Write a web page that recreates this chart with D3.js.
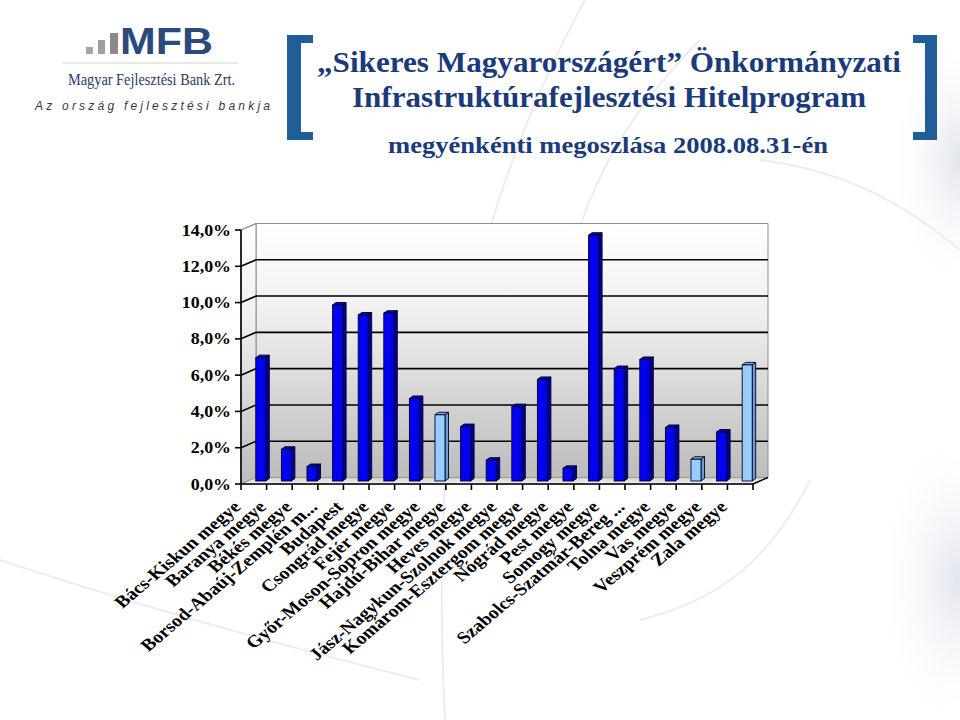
<!DOCTYPE html>
<html><head><meta charset="utf-8">
<script src="https://cdn.jsdelivr.net/npm/d3@7"></script>
<style>body{margin:0;background:#fff}svg{display:block}
.serif{font-family:'Liberation Serif','Times New Roman',Tinos,serif}
.sans{font-family:'Liberation Sans',Arial,sans-serif}</style>
</head><body>
<svg id="c" width="960" height="720"></svg>
<script>
const categories = ["Bács-Kiskun megye","Baranya megye","Békés megye","Borsod-Abaúj-Zemplén m...","Budapest","Csongrád megye","Fejér megye","Győr-Moson-Sopron megye","Hajdú-Bihar megye","Heves megye","Jász-Nagykun-Szolnok megye","Komárom-Esztergom megye","Nógrád megye","Pest megye","Somogy megye","Szabolcs-Szatmár-Bereg ...","Tolna megye","Vas megye","Veszprém megye","Zala megye"];
const values = [6.8,1.75,0.8,9.7,9.15,9.25,4.55,3.65,3.0,1.15,4.1,5.6,0.7,13.55,6.2,6.7,2.95,1.2,2.7,6.4];
const lightBars = ["Győr-Moson-Sopron megye","Vas megye","Zala megye"];
const yTicks = [0,2,4,6,8,10,12,14];
const titleLines = ["„Sikeres Magyarországért” Önkormányzati","Infrastruktúrafejlesztési Hitelprogram","megyénkénti megoszlása 2008.08.31-én"];

const svg = d3.select("#c");
const defs = svg.append("defs");

// background decoration
const bgG = defs.append("radialGradient").attr("id","blob").attr("cx",0.7).attr("cy",0.5).attr("r",0.6);
bgG.append("stop").attr("offset",0).attr("stop-color","#e2e5ee");
bgG.append("stop").attr("offset",1).attr("stop-color","#ffffff").attr("stop-opacity",0);
svg.append("ellipse").attr("cx",930).attr("cy",580).attr("rx",70).attr("ry",130).attr("fill","url(#blob)");
svg.append("ellipse").attr("cx",935).attr("cy",160).attr("rx",60).attr("ry",110).attr("fill","url(#blob)");
const arcs = ["M585,0 C520,120 470,260 450,420 C440,520 440,620 445,720",
  "M700,40 C620,120 580,200 560,300","M810,480 C770,560 720,600 640,620",
  "M0,560 C120,600 260,640 420,680","M960,250 C900,200 840,170 760,160"];
svg.selectAll("path.arc").data(arcs).enter().append("path").attr("class","arc")
  .attr("d",d=>d).attr("fill","none").attr("stroke","#ededf1").attr("stroke-width",2);

// logo
const logoBars = [[86,47,7,7,"#a6a6a6"],[98,40,7,14,"#a0a0a0"],[110,33,8,21,"#8a8a8a"]];
svg.selectAll("rect.lb").data(logoBars).enter().append("rect").attr("class","lb")
  .attr("x",d=>d[0]).attr("y",d=>d[1]).attr("width",d=>d[2]).attr("height",d=>d[3]).attr("fill",d=>d[4]);
svg.append("text").attr("class","sans").attr("x",120).attr("y",54).attr("font-weight","bold")
  .attr("font-size",36).attr("fill","#2b4a7c").attr("textLength",93).attr("lengthAdjust","spacingAndGlyphs").text("MFB");
svg.append("line").attr("x1",63).attr("x2",238).attr("y1",63).attr("y2",63).attr("stroke","#cfcfcf");
svg.append("text").attr("class","serif").attr("x",68).attr("y",85).attr("font-size",17)
  .attr("fill","#2a3b63").attr("textLength",167).attr("lengthAdjust","spacingAndGlyphs").text("Magyar Fejlesztési Bank Zrt.");
svg.append("text").attr("class","sans").attr("x",35).attr("y",110).attr("font-style","italic").attr("font-size",12)
  .attr("fill","#333a48").attr("textLength",235).attr("lengthAdjust","spacing").text("Az ország fejlesztési bankja");

// brackets
const bc = "#1f5e98";
svg.append("path").attr("fill",bc).attr("d","M287,35 H313 V43 H301 V132 H313 V140 H287 Z");
svg.append("path").attr("fill",bc).attr("d","M937,35 H913 V43 H925 V132 H913 V140 H937 Z");

// title
const tSpec = [[609,72,30,584],[609,107,30,514],[608,153,24,440]];
svg.selectAll("text.title").data(titleLines).enter().append("text").attr("class","title serif")
  .attr("x",(d,i)=>tSpec[i][0]).attr("y",(d,i)=>tSpec[i][1]).attr("font-size",(d,i)=>tSpec[i][2])
  .attr("text-anchor","middle").attr("font-weight","bold")
  .attr("fill","#1b3a7a").attr("textLength",(d,i)=>tSpec[i][3]).attr("lengthAdjust","spacingAndGlyphs").text(d=>d);

// chart
const X0 = 241, X1 = 753, DX = 15, DY = -6.5;
const x = d3.scaleBand().domain(categories).range([X0, X1]).paddingInner(0).paddingOuter(0);
const y = d3.scaleLinear().domain([0,14]).range([484,230]);
const g = svg.append("g");

const wallG = defs.append("linearGradient").attr("id","wall").attr("x1",0).attr("y1",0).attr("x2",0).attr("y2",1);
wallG.append("stop").attr("offset",0).attr("stop-color","#ffffff");
wallG.append("stop").attr("offset",0.35).attr("stop-color","#f0f0f0");
wallG.append("stop").attr("offset",1).attr("stop-color","#bcbcbc");
const floorG = defs.append("linearGradient").attr("id","floor").attr("x1",0).attr("y1",0).attr("x2",0).attr("y2",1);
floorG.append("stop").attr("offset",0).attr("stop-color","#d2d2d2");
floorG.append("stop").attr("offset",1).attr("stop-color","#f2f2f2");

const yTop = y(14), yBot = y(0);
g.append("path").attr("d",`M${X0+DX},${yTop+DY} H${X1+DX} V${yBot+DY} H${X0+DX} Z`).attr("fill","url(#wall)").attr("stroke","#8c8c8c");
g.append("path").attr("d",`M${X0},${yTop} L${X0+DX},${yTop+DY} V${yBot+DY} L${X0},${yBot} Z`).attr("fill","url(#wall)").attr("stroke","#8c8c8c");
g.append("path").attr("d",`M${X0},${yBot} H${X1} L${X1+DX},${yBot+DY} H${X0+DX} Z`).attr("fill","url(#floor)").attr("stroke","#9a9a9a");

// gridlines
const grid = yTicks.filter(v=>v>0);
g.selectAll("path.grid").data(grid).enter().append("path").attr("class","grid")
  .attr("d",v=>`M${X0},${y(v)} L${X0+DX},${y(v)+DY} H${X1+DX}`).attr("fill","none")
  .attr("stroke",v=>v===14?"#8c8c8c":"#000").attr("stroke-width",v=>v===14?1:1.6);

// axes
g.append("line").attr("x1",X0).attr("x2",X0).attr("y1",yTop).attr("y2",yBot).attr("stroke","#000").attr("stroke-width",1.6);
g.selectAll("line.yt").data(yTicks).enter().append("line").attr("class","yt")
  .attr("x1",X0-6).attr("x2",X0).attr("y1",v=>y(v)).attr("y2",v=>y(v)).attr("stroke","#000").attr("stroke-width",1.6);
g.append("line").attr("x1",X0).attr("x2",X1).attr("y1",yBot).attr("y2",yBot).attr("stroke","#000").attr("stroke-width",1.6);
g.append("line").attr("x1",X1).attr("x2",X1+DX).attr("y1",yBot).attr("y2",yBot+DY).attr("stroke","#000").attr("stroke-width",1.4);
const bounds = categories.map(c=>x(c)).concat([X1]);
g.selectAll("line.xt").data(bounds).enter().append("line").attr("class","xt")
  .attr("x1",d=>d).attr("x2",d=>d).attr("y1",yBot).attr("y2",yBot+6).attr("stroke","#000").attr("stroke-width",1.6);

const fmt = v => v.toFixed(1).replace(".",",") + "%";
g.selectAll("text.yl").data(yTicks).enter().append("text").attr("class","yl serif")
  .attr("transform",v=>`translate(231,${y(v)}) scale(1.12,1)`).attr("dy","0.35em").attr("text-anchor","end")
  .attr("font-weight","bold").attr("font-size",16).attr("fill","#000")
  .text(fmt);

// bars
const BW = 10, BDX = 3.5, BDY = -2.5, OFFX = 7 - BW/2, OFFY = -3;
const bars = g.selectAll("g.bar").data(categories).enter().append("g").attr("class","bar");
function col(c, part){
  const light = lightBars.includes(c);
  if(light) return part==="front"?"#99ccff":part==="top"?"#7fb1e4":"#6c9bd0";
  return part==="front"?"#0000f2":part==="top"?"#0000c4":"#00009a";
}
bars.each(function(c,i){
  const sel = d3.select(this);
  const xl = x(c) + x.bandwidth()/2 + OFFX, xr = xl + BW;
  const yb = y(0) + OFFY, yt = y(values[i]) + OFFY;
  sel.append("path").attr("d",`M${xr},${yb} L${xr+BDX},${yb+BDY} V${yt+BDY} L${xr},${yt} Z`).attr("fill",col(c,"side")).attr("stroke","#000022").attr("stroke-width",0.9);
  sel.append("path").attr("d",`M${xl},${yt} L${xl+BDX},${yt+BDY} H${xr+BDX} L${xr},${yt} Z`).attr("fill",col(c,"top")).attr("stroke","#000022").attr("stroke-width",0.9);
  sel.append("rect").attr("x",xl).attr("y",yt).attr("width",BW).attr("height",yb-yt).attr("fill",col(c,"front")).attr("stroke","#000022").attr("stroke-width",0.9);
});

// x labels
g.selectAll("text.xl").data(categories).enter().append("text").attr("class","xl serif")
  .attr("transform",c=>`translate(${x(c)+x.bandwidth()/2-12},${yBot+24}) scale(1.18,1) rotate(-45)`)
  .attr("text-anchor","end").attr("font-weight","bold")
  .attr("font-size",17).attr("fill","#000").text(c=>c);
</script>
</body></html>
